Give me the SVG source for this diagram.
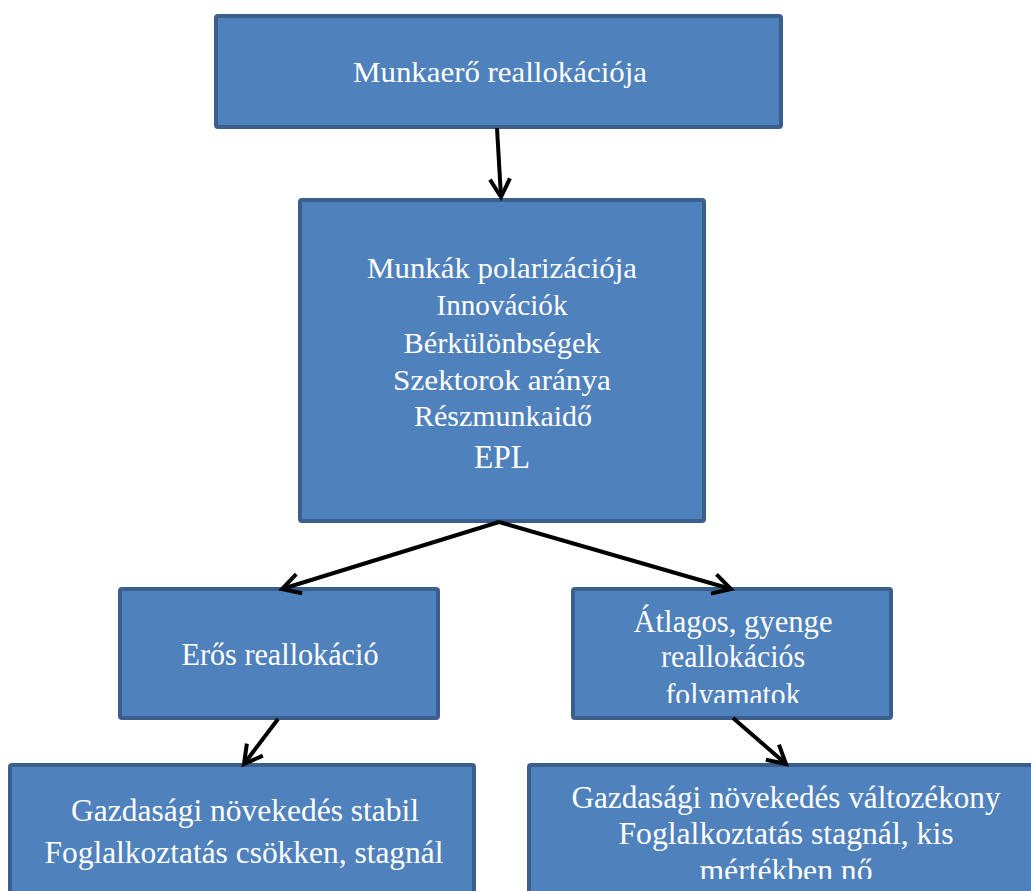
<svg xmlns="http://www.w3.org/2000/svg" width="1031" height="891" viewBox="0 0 1031 891">
<style>
.box{fill:#4F81BD;stroke:#3A5F8D;stroke-width:4}
.t{font-family:"Liberation Serif","Times New Roman",serif;font-size:30px;fill:#FFFFFF;text-anchor:middle}
.s{font-size:31px}
.c{stroke:#000;stroke-width:4;fill:none;marker-end:url(#ah)}
</style>
<defs>
<marker id="ah" markerWidth="30" markerHeight="30" refX="0" refY="0" orient="auto" markerUnits="userSpaceOnUse" viewBox="-22 -15 30 30" overflow="visible">
<path d="M-18,-10 L0,0 L-18,10" fill="none" stroke="#000" stroke-width="4" stroke-linejoin="miter"/>
</marker>
<clipPath id="clipR"><rect x="575" y="591" width="314" height="112"/></clipPath>
<clipPath id="clipB"><rect x="531" y="767" width="510" height="112"/></clipPath>
</defs>
<g id="n1">
<rect class="box" x="216" y="16" width="565" height="111" rx="2"/>
<text class="t" x="500" y="82" textLength="294" lengthAdjust="spacingAndGlyphs">Munkaerő reallokációja</text>
</g>
<g id="n2">
<rect class="box" x="300" y="200" width="404" height="321" rx="2"/>
<text class="t" x="502" y="278" textLength="270" lengthAdjust="spacingAndGlyphs">Munkák polarizációja</text>
<text class="t" x="502" y="315" textLength="131" lengthAdjust="spacingAndGlyphs">Innovációk</text>
<text class="t" x="502" y="353" textLength="197" lengthAdjust="spacingAndGlyphs">Bérkülönbségek</text>
<text class="t" x="502" y="390" textLength="218" lengthAdjust="spacingAndGlyphs">Szektorok aránya</text>
<text class="t" x="503" y="426" textLength="178" lengthAdjust="spacingAndGlyphs">Részmunkaidő</text>
<text class="t" x="502" y="468" style="font-size:34px" textLength="56" lengthAdjust="spacingAndGlyphs">EPL</text>
</g>
<g id="n3">
<rect class="box" x="120" y="589" width="318" height="129" rx="2"/>
<text class="t s" x="280" y="665" textLength="197" lengthAdjust="spacingAndGlyphs">Erős reallokáció</text>
</g>
<g id="n4">
<rect class="box" x="573" y="589" width="318" height="129" rx="2"/>
<g clip-path="url(#clipR)">
<text class="t s" x="733" y="632" textLength="199" lengthAdjust="spacingAndGlyphs">Átlagos, gyenge</text>
<text class="t s" x="733" y="667" textLength="144" lengthAdjust="spacingAndGlyphs">reallokációs</text>
<text class="t s" x="733" y="705" textLength="135" lengthAdjust="spacingAndGlyphs">folyamatok</text>
</g>
</g>
<g id="n5">
<rect class="box" x="10" y="765" width="464" height="140" rx="2"/>
<text class="t s" x="245" y="821" textLength="348" lengthAdjust="spacingAndGlyphs">Gazdasági növekedés stabil</text>
<text class="t s" x="244" y="863" textLength="399" lengthAdjust="spacingAndGlyphs">Foglalkoztatás csökken, stagnál</text>
</g>
<g id="n6">
<rect class="box" x="529" y="765" width="520" height="140" rx="2"/>
<g clip-path="url(#clipB)">
<text class="t s" x="786" y="808" textLength="429" lengthAdjust="spacingAndGlyphs">Gazdasági növekedés változékony</text>
<text class="t s" x="786" y="844" textLength="335" lengthAdjust="spacingAndGlyphs">Foglalkoztatás stagnál, kis</text>
<text class="t s" x="786" y="881" textLength="173" lengthAdjust="spacingAndGlyphs">mértékben nő</text>
</g>
</g>
<g id="connectors">
<path class="c" d="M497,128 L501,197"/>
<path class="c" d="M499,522 L282,589"/>
<path class="c" d="M499,522 L731,589"/>
<path class="c" d="M278,719 L244,764"/>
<path class="c" d="M733,718 L786,764"/>
</g>
</svg>
